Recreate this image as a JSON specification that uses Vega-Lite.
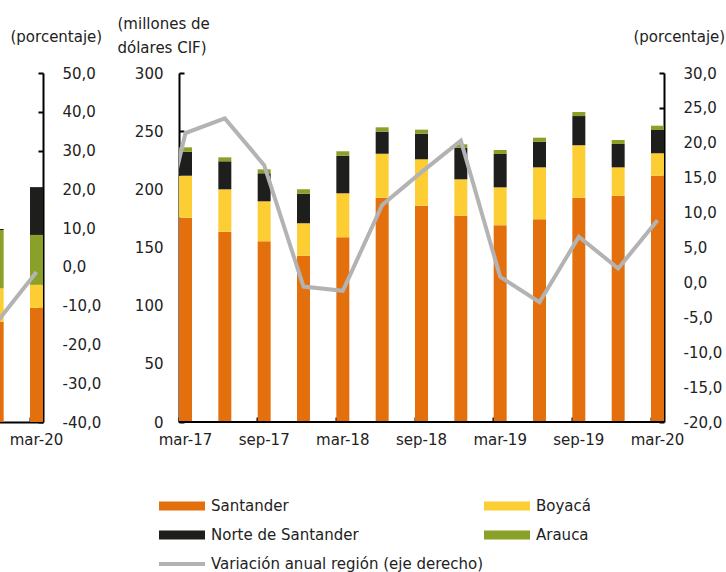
{
  "$schema": "https://vega.github.io/schema/vega-lite/v6.json",
  "autosize": {"type": "none"},
  "padding": {"left": 0, "top": 73, "right": 726, "bottom": 499},
  "background": "white",
  "datasets": {
    "barras": [
      {"trimestre": "mar-17", "serie": "Santander", "valor": 175.6},
      {"trimestre": "mar-17", "serie": "Boyacá", "valor": 36.1},
      {"trimestre": "mar-17", "serie": "Norte de Santander", "valor": 20.6},
      {"trimestre": "mar-17", "serie": "Arauca", "valor": 3.8},
      {"trimestre": "jun-17", "serie": "Santander", "valor": 163.6},
      {"trimestre": "jun-17", "serie": "Boyacá", "valor": 36.4},
      {"trimestre": "jun-17", "serie": "Norte de Santander", "valor": 24.1},
      {"trimestre": "jun-17", "serie": "Arauca", "valor": 3.4},
      {"trimestre": "sep-17", "serie": "Santander", "valor": 155.3},
      {"trimestre": "sep-17", "serie": "Boyacá", "valor": 34.4},
      {"trimestre": "sep-17", "serie": "Norte de Santander", "valor": 24.1},
      {"trimestre": "sep-17", "serie": "Arauca", "valor": 3.4},
      {"trimestre": "dic-17", "serie": "Santander", "valor": 143.0},
      {"trimestre": "dic-17", "serie": "Boyacá", "valor": 27.8},
      {"trimestre": "dic-17", "serie": "Norte de Santander", "valor": 25.5},
      {"trimestre": "dic-17", "serie": "Arauca", "valor": 3.7},
      {"trimestre": "mar-18", "serie": "Santander", "valor": 158.8},
      {"trimestre": "mar-18", "serie": "Boyacá", "valor": 37.8},
      {"trimestre": "mar-18", "serie": "Norte de Santander", "valor": 32.3},
      {"trimestre": "mar-18", "serie": "Arauca", "valor": 3.8},
      {"trimestre": "jun-18", "serie": "Santander", "valor": 192.8},
      {"trimestre": "jun-18", "serie": "Boyacá", "valor": 37.8},
      {"trimestre": "jun-18", "serie": "Norte de Santander", "valor": 19.0},
      {"trimestre": "jun-18", "serie": "Arauca", "valor": 3.7},
      {"trimestre": "sep-18", "serie": "Santander", "valor": 185.9},
      {"trimestre": "sep-18", "serie": "Boyacá", "valor": 39.9},
      {"trimestre": "sep-18", "serie": "Norte de Santander", "valor": 22.0},
      {"trimestre": "sep-18", "serie": "Arauca", "valor": 3.5},
      {"trimestre": "dic-18", "serie": "Santander", "valor": 177.3},
      {"trimestre": "dic-18", "serie": "Boyacá", "valor": 31.3},
      {"trimestre": "dic-18", "serie": "Norte de Santander", "valor": 27.2},
      {"trimestre": "dic-18", "serie": "Arauca", "valor": 2.9},
      {"trimestre": "mar-19", "serie": "Santander", "valor": 169.1},
      {"trimestre": "mar-19", "serie": "Boyacá", "valor": 32.6},
      {"trimestre": "mar-19", "serie": "Norte de Santander", "valor": 28.7},
      {"trimestre": "mar-19", "serie": "Arauca", "valor": 3.4},
      {"trimestre": "jun-19", "serie": "Santander", "valor": 174.2},
      {"trimestre": "jun-19", "serie": "Boyacá", "valor": 44.7},
      {"trimestre": "jun-19", "serie": "Norte de Santander", "valor": 22.1},
      {"trimestre": "jun-19", "serie": "Arauca", "valor": 3.4},
      {"trimestre": "sep-19", "serie": "Santander", "valor": 192.8},
      {"trimestre": "sep-19", "serie": "Boyacá", "valor": 45.1},
      {"trimestre": "sep-19", "serie": "Norte de Santander", "valor": 25.1},
      {"trimestre": "sep-19", "serie": "Arauca", "valor": 3.5},
      {"trimestre": "dic-19", "serie": "Santander", "valor": 194.5},
      {"trimestre": "dic-19", "serie": "Boyacá", "valor": 24.4},
      {"trimestre": "dic-19", "serie": "Norte de Santander", "valor": 20.1},
      {"trimestre": "dic-19", "serie": "Arauca", "valor": 3.4},
      {"trimestre": "mar-20", "serie": "Santander", "valor": 211.7},
      {"trimestre": "mar-20", "serie": "Boyacá", "valor": 19.3},
      {"trimestre": "mar-20", "serie": "Norte de Santander", "valor": 20.0},
      {"trimestre": "mar-20", "serie": "Arauca", "valor": 3.7}
    ],
    "linea": [
      {"trimestre": "dic-16", "variacion": -2.2},
      {"trimestre": "mar-17", "variacion": 21.4},
      {"trimestre": "jun-17", "variacion": 23.5},
      {"trimestre": "sep-17", "variacion": 16.8},
      {"trimestre": "dic-17", "variacion": -0.6},
      {"trimestre": "mar-18", "variacion": -1.2},
      {"trimestre": "jun-18", "variacion": 11.1},
      {"trimestre": "sep-18", "variacion": 15.8},
      {"trimestre": "dic-18", "variacion": 20.3},
      {"trimestre": "mar-19", "variacion": 0.8},
      {"trimestre": "jun-19", "variacion": -2.85},
      {"trimestre": "sep-19", "variacion": 6.55},
      {"trimestre": "dic-19", "variacion": 2.0},
      {"trimestre": "mar-20", "variacion": 8.9}
    ],
    "izq_barras": [
      {"trimestre": "dic-19", "serie": "Santander", "valor": 28.7},
      {"trimestre": "dic-19", "serie": "Boyacá", "valor": 9.6},
      {"trimestre": "dic-19", "serie": "Arauca", "valor": 16.7},
      {"trimestre": "dic-19", "serie": "Norte de Santander", "valor": 0.3},
      {"trimestre": "mar-20", "serie": "Santander", "valor": 32.7},
      {"trimestre": "mar-20", "serie": "Boyacá", "valor": 6.6},
      {"trimestre": "mar-20", "serie": "Arauca", "valor": 14.3},
      {"trimestre": "mar-20", "serie": "Norte de Santander", "valor": 13.7}
    ],
    "izq_linea": [
      {"trimestre": "dic-19", "variacion": -14.2},
      {"trimestre": "mar-20", "variacion": -1.3}
    ]
  },
  "hconcat": [
    {
      "width": 43,
      "height": 349,
      "layer": [
        {
          "data": {"name": "izq_barras"},
          "transform": [{"calculate": "indexof(['Santander', 'Boyacá', 'Arauca', 'Norte de Santander'], datum.serie)", "as": "orden"}],
          "mark": {"type": "bar", "clip": true},
          "encoding": {
            "x": {
              "field": "trimestre", "type": "nominal",
              "scale": {"domain": ["dic-19", "mar-20"], "range": [-9.33, 43], "paddingInner": 0.67, "paddingOuter": 0},
              "axis": {"values": ["mar-20"], "bandPosition": 0, "labelAngle": 0, "title": null}
            },
            "y": {"field": "valor", "type": "quantitative", "stack": "zero", "scale": {"domain": [0, 100], "nice": false}, "axis": null},
            "order": {"field": "orden", "type": "quantitative", "sort": "ascending"},
            "color": {
              "field": "serie", "type": "nominal",
              "scale": {"domain": ["Santander", "Boyacá", "Arauca", "Norte de Santander"], "range": ["#E46F0D", "#FDCE34", "#89A029", "#1E1E1C"]},
              "legend": null
            }
          }
        },
        {
          "data": {"name": "izq_linea"},
          "mark": {"type": "line", "clip": true, "color": "#B3B3B3", "strokeWidth": 4},
          "encoding": {
            "x": {"field": "trimestre", "type": "nominal"},
            "y": {
              "field": "variacion", "type": "quantitative",
              "scale": {"domain": [-40, 50], "nice": false},
              "axis": {
                "orient": "right", "values": [-40, -30, -20, -10, 0, 10, 20, 30, 40, 50], "format": ".1f",
                "title": "(porcentaje)", "titleX": -33, "titleY": -32
              }
            }
          }
        }
      ],
      "resolve": {"scale": {"y": "independent"}}
    },
    {
      "width": 485,
      "height": 349,
      "layer": [
        {
          "layer": [
            {
              "data": {"name": "barras"},
              "transform": [{"calculate": "indexof(['Santander', 'Boyacá', 'Norte de Santander', 'Arauca'], datum.serie)", "as": "orden"}],
              "mark": {"type": "bar"},
              "encoding": {
                "x": {
                  "field": "trimestre", "type": "nominal",
                  "scale": {
                    "domain": ["dic-16", "mar-17", "jun-17", "sep-17", "dic-17", "mar-18", "jun-18", "sep-18", "dic-18", "mar-19", "jun-19", "sep-19", "dic-19", "mar-20"],
                    "range": [-39.33, 485], "paddingInner": 0.67, "paddingOuter": 0
                  },
                  "axis": {
                    "values": ["mar-17", "sep-17", "mar-18", "sep-18", "mar-19", "sep-19", "mar-20"],
                    "bandPosition": 0, "labelAngle": 0, "title": null, "domain": false
                  }
                },
                "y": {
                  "field": "valor", "type": "quantitative", "stack": "zero",
                  "scale": {"domain": [0, 300], "nice": false},
                  "axis": {
                    "values": [0, 50, 100, 150, 200, 250, 300], "format": "d",
                    "title": ["(millones de", "dólares CIF)"], "titleX": -62, "titleY": -45, "titleLineHeight": 24
                  }
                },
                "order": {"field": "orden", "type": "quantitative", "sort": "ascending"},
                "color": {
                  "field": "serie", "type": "nominal",
                  "scale": {
                    "domain": ["Santander", "Boyacá", "Norte de Santander", "Arauca", "Variación anual región (eje derecho)"],
                    "range": ["#E46F0D", "#FDCE34", "#1E1E1C", "#89A029", "#B3B3B3"]
                  },
                  "legend": {
                    "orient": "none", "legendX": -20, "legendY": 418.5, "direction": "horizontal", "columns": 2, "gridAlign": "all",
                    "columnPadding": 0, "rowPadding": 0, "clipHeight": 29,
                    "title": null, "padding": 0, "symbolType": "M-1,-0.2H1V0.2H-1Z", "symbolSize": 2116, "symbolStrokeWidth": 0,
                    "labelOffset": 6, "labelFontSize": 15, "labelFont": "DejaVu Sans", "labelColor": "#222222", "labelLimit": 400,
                    "encode": {
                      "symbols": {
                        "update": {
                          "shape": {"signal": "datum.value === 'Variación anual región (eje derecho)' ? 'M-1,-0.09H1V0.09H-1Z' : 'M-1,-0.2H1V0.2H-1Z'"}
                        }
                      }
                    }
                  }
                }
              }
            },
            {
              "data": {"name": "barras"},
              "mark": {"type": "rule", "color": "#000000", "strokeWidth": 2},
              "encoding": {"y": {"datum": 0}}
            }
          ]
        },
        {
          "data": {"name": "linea"},
          "mark": {"type": "line", "clip": true, "strokeWidth": 4},
          "encoding": {
            "x": {"field": "trimestre", "type": "nominal"},
            "y": {
              "field": "variacion", "type": "quantitative",
              "scale": {"domain": [-20, 30], "nice": false},
              "axis": {
                "orient": "right", "values": [-20, -15, -10, -5, 0, 5, 10, 15, 20, 25, 30], "format": ".1f",
                "title": "(porcentaje)", "titleX": -31, "titleY": -32
              }
            },
            "color": {"datum": "Variación anual región (eje derecho)"}
          }
        }
      ],
      "resolve": {"scale": {"y": "independent"}}
    }
  ],
  "spacing": 136,
  "bounds": "flush",
  "resolve": {"scale": {"color": "independent"}, "legend": {"color": "independent"}},
  "config": {
    "font": "DejaVu Sans",
    "locale": {"number": {"decimal": ",", "thousands": ".", "grouping": [3], "currency": ["$", ""], "minus": "-"}},
    "view": {"stroke": null},
    "axis": {
      "grid": false,
      "domainColor": "#000000", "domainWidth": 2,
      "tickColor": "#000000", "tickWidth": 2, "tickSize": -5,
      "labelFont": "DejaVu Sans", "labelFontSize": 15, "labelColor": "#222222", "labelPadding": 21,
      "titleFont": "DejaVu Sans", "titleFontSize": 15, "titleFontWeight": "normal", "titleColor": "#222222",
      "titleAngle": 0, "titleAlign": "left", "titleBaseline": "alphabetic"
    },
    "axisX": {"labelPadding": 15},
    "axisRight": {"labelPadding": 24}
  }
}
